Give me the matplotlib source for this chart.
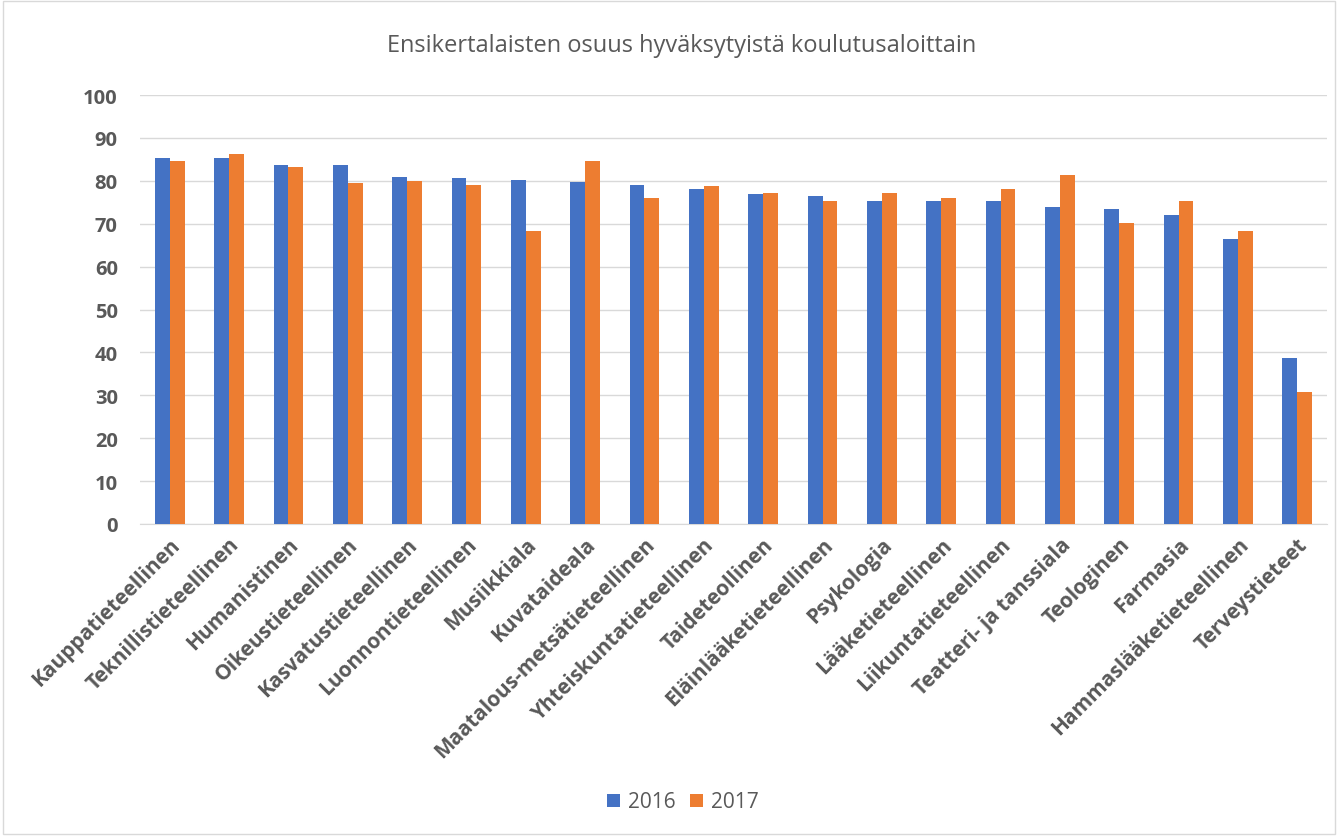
import matplotlib
matplotlib.use("Agg")
import matplotlib.pyplot as plt
import numpy as np
from matplotlib.patches import Rectangle

categories = ["Kauppatieteellinen", "Teknillistieteellinen", "Humanistinen", "Oikeustieteellinen",
              "Kasvatustieteellinen", "Luonnontieteellinen", "Musiikkiala", "Kuvataideala",
              "Maatalous-metsätieteellinen", "Yhteiskuntatieteellinen", "Taideteollinen",
              "Eläinlääketieteellinen", "Psykologia", "Lääketieteellinen", "Liikuntatieteellinen",
              "Teatteri- ja tanssiala", "Teologinen", "Farmasia", "Hammaslääketieteellinen",
              "Terveystieteet"]
values_2016 = [85.4, 85.4, 83.6, 83.6, 81.0, 80.6, 80.2, 79.8, 79.0, 78.0,
               76.9, 76.5, 75.4, 75.4, 75.4, 73.9, 73.5, 72.0, 66.4, 38.7]
values_2017 = [84.7, 86.2, 83.3, 79.5, 79.9, 79.1, 68.2, 84.7, 76.1, 78.7,
               77.2, 75.4, 77.2, 76.1, 78.0, 81.4, 70.1, 75.4, 68.2, 30.8]
series_names = ["2016", "2017"]
yticks = list(range(0, 101, 10))

plt.rcParams['font.family'] = ['Open Sans', 'DejaVu Sans']

W, H = 1338, 837
fig = plt.figure(figsize=(W / 100, H / 100), dpi=100)
ax = fig.add_axes([140 / W, 1 - 525 / H, (1327 - 140) / W, (525 - 96) / H])

x = np.arange(len(categories))
bw = 0.25
ax.bar(x - bw / 2, values_2016, bw, color="#4472C4", label=series_names[0], zorder=3)
ax.bar(x + bw / 2, values_2017, bw, color="#ED7D31", label=series_names[1], zorder=3)

ax.set_xlim(-0.5, len(categories) - 0.5)
ax.set_ylim(0, 100)
ax.set_yticks(yticks)
ax.set_yticklabels([str(t) for t in yticks], fontsize=14.5, fontweight="bold", color="#595959")
ax.set_xticks(x)
ax.set_xticklabels(categories, rotation=45, ha="right", rotation_mode="anchor",
                   fontsize=15, fontweight="bold", color="#595959")
ax.tick_params(axis="both", length=0)
ax.tick_params(axis="y", pad=16)
ax.tick_params(axis="x", pad=7)
ax.grid(axis="y", color="#D9D9D9", linewidth=1, zorder=0)
for s in ["top", "right", "left"]:
    ax.spines[s].set_visible(False)
ax.spines["bottom"].set_color("#D9D9D9")

fig.text(682 / W, 1 - 46 / H, "Ensikertalaisten osuus hyväksytyistä koulutusaloittain",
         ha="center", va="center", fontsize=17, color="#595959")

fig.legend(loc="center", bbox_to_anchor=(683 / W, 1 - 803 / H), ncol=2, frameon=False,
           fontsize=15, labelcolor="#595959", handlelength=0.6, handleheight=0.6,
           handletextpad=0.4, columnspacing=0.7)

fig.patches.append(Rectangle((0.002, 0.002), 0.996, 0.996, transform=fig.transFigure,
                             fill=False, edgecolor="#D9D9D9", linewidth=1))

fig.savefig("out.png", dpi=100)
